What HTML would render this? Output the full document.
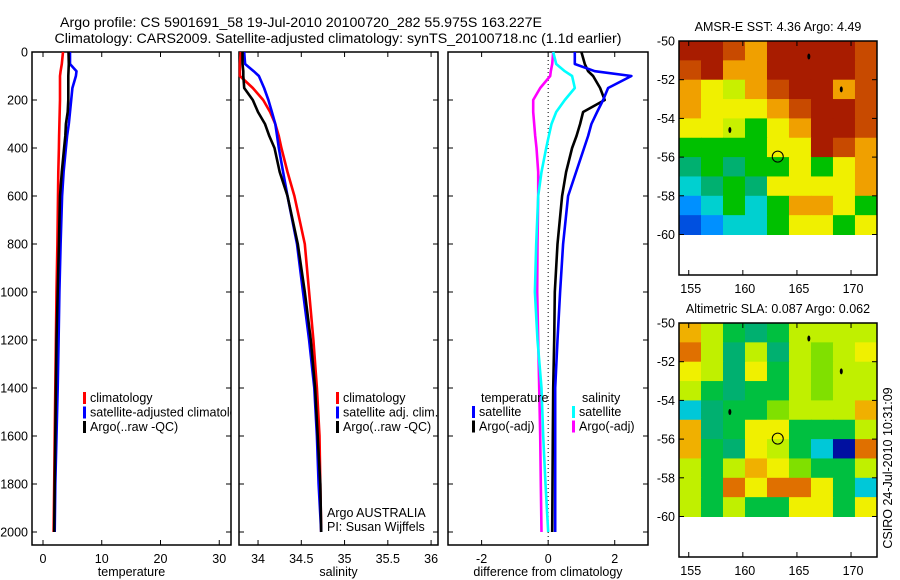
<!DOCTYPE html>
<html><head><meta charset="utf-8"><style>
html,body{margin:0;padding:0;background:#fff;}
svg{display:block;font-family:"Liberation Sans",sans-serif;}
</style></head><body>
<svg id="fig" width="900" height="580" viewBox="0 0 900 580">
<defs><clipPath id="clip1"><rect x="32" y="52" width="199" height="493"/></clipPath></defs>
<text x="301" y="27" font-size="14.2" text-anchor="middle">Argo profile: CS 5901691_58 19-Jul-2010 20100720_282 55.975S 163.227E</text>
<text x="338" y="43" font-size="14.2" text-anchor="middle">Climatology: CARS2009. Satellite-adjusted climatology: synTS_20100718.nc (1.1d earlier)</text>
<text transform="translate(892,468) rotate(-90)" font-size="12.5" text-anchor="middle">CSIRO 24-Jul-2010 10:31:09</text>
</svg>
<script>
// ---- data ----
const depthLevels = [0,50,80,100,150,200,250,300,350,400,500,600,800,1000,1200,1400,1600,1800,2000];
const tempClim   = [3.4,3.2,3.0,2.9,2.9,2.9,2.85,2.8,2.75,2.7,2.6,2.55,2.45,2.3,2.2,2.1,2.0,1.9,1.8];
const tempArgo   = [4.35,4.4,4.35,4.3,4.3,4.3,4.2,3.9,3.8,3.6,3.2,2.9,2.7,2.5,2.3,2.2,2.1,2.0,1.9];
const tempSat    = [4.6,4.6,5.7,5.6,5.0,4.8,4.6,4.4,4.1,3.9,3.5,3.25,3.0,2.8,2.65,2.5,2.3,2.1,2.0];
const salClim    = [33.8,33.79,33.79,33.79,33.94,34.06,34.14,34.2,34.24,34.27,34.34,34.42,34.54,34.59,34.64,34.68,34.71,34.72,34.73];
const salArgo    = [33.82,33.82,33.83,33.83,33.84,33.94,34.0,34.08,34.13,34.19,34.25,34.34,34.46,34.54,34.61,34.66,34.69,34.72,34.73];
const salSat     = [33.84,33.85,33.95,34.01,34.07,34.12,34.16,34.2,34.22,34.24,34.29,34.34,34.45,34.52,34.59,34.65,34.68,34.70,34.73];
const dSalArgo   = [0.15,0.12,0.08,0.06,-0.24,-0.45,-0.45,-0.42,-0.39,-0.35,-0.3,-0.3,-0.32,-0.33,-0.3,-0.27,-0.24,-0.22,-0.2];
const dSalSat    = [0.15,0.24,0.5,0.72,0.8,0.5,0.24,0.1,0.02,-0.06,-0.2,-0.3,-0.36,-0.4,-0.32,-0.2,-0.15,-0.08,0.0];
const dTempArgo  = [1.0,1.1,1.2,1.35,1.56,1.7,1.05,0.96,0.85,0.72,0.54,0.42,0.28,0.2,0.18,0.15,0.14,0.13,0.12];
const dTempSat   = [0.8,0.8,1.4,2.5,1.8,1.65,1.47,1.3,1.2,1.08,0.84,0.6,0.45,0.36,0.28,0.21,0.21,0.21,0.21];
const depthTicks = [0,200,400,600,800,1000,1200,1400,1600,1800,2000];
const tempTicks  = [0,10,20,30];
const salTicks   = [34,34.5,35,35.5,36];
const salTickLabels = ["34","34.5","35","35.5","36"];
const diffTicks  = [-2,0,2];
const lonTicks   = [155,160,165,170];
const latTicks   = [-50,-52,-54,-56,-58,-60];
const sstGrid = ["RROoRRRRO","ORooRRRRO","oYyoORRoO","oYYYoORRO","YYyGYoRRO","GGGGYYROo","gGgGGYGYo","CgGgYYYYo","BCGCGooYG","DBCCGYYGY"];
const slaGrid = ["oyGgGyyyy","OygygylyY","YygYGylyy","yGgGGylyy","CgGGlyyyo","ogGYYGGGy","oGgYyGCDO","yGyoYlGGy","yGOYOOYGC","yGyGGYYGY"];
const floatLon = 163.227, floatLat = -55.975;

const svg = document.getElementById('fig');
const NS = 'http://www.w3.org/2000/svg';
function mk(tag, attrs, parent){ const e=document.createElementNS(NS,tag); for(const k in attrs) e.setAttribute(k,attrs[k]); (parent||svg).appendChild(e); return e; }
function txt(x,y,s,size,anchor,parent){ const t=mk('text',{x:x,y:y,'font-size':size,'text-anchor':anchor||'middle'},parent); t.textContent=s; return t; }

const Y0=52, Y1=545;
const yD = d => Y0 + d*0.24;

function panel(name, x0, x1, vmin, vmax, ticks, labels, showDepth, xlabel){
  const g = mk('g',{});
  
  
  const sx = v => x0 + (v-vmin)/(vmax-vmin)*(x1-x0);
  mk('rect',{x:x0,y:Y0,width:x1-x0,height:Y1-Y0,fill:'none',stroke:'#000','stroke-width':1.5},g);
  ticks.forEach((t,i)=>{
    const x=sx(t);
    mk('line',{x1:x,y1:Y1,x2:x,y2:Y1-5,stroke:'#000'},g);
    mk('line',{x1:x,y1:Y0,x2:x,y2:Y0+5,stroke:'#000'},g);
    const l=txt(x,Y1+18,labels?labels[i]:String(t),12.5,'middle',g);
    
    
  });
  depthTicks.forEach(d=>{
    const y=yD(d);
    mk('line',{x1:x0,y1:y,x2:x0+5,y2:y,stroke:'#000'},g);
    mk('line',{x1:x1,y1:y,x2:x1-5,y2:y,stroke:'#000'},g);
    if(showDepth){
      const l=txt(x0-4,y+4.5,String(d),12.5,'end',g);
      
      
    }
  });
  const xl=txt((x0+x1)/2,Y1+31,xlabel,12.5,'middle',g);
  
  
  return {g:g,sx:sx};
}
function line(p, vals, color, name){
  const pts = vals.map((v,i)=>p.sx(v).toFixed(1)+','+yD(depthLevels[i]).toFixed(1)).join(' ');
  const pl = mk('polyline',{points:pts,fill:'none',stroke:color,'stroke-width':2.6,'stroke-linejoin':'round'},p.g);
  
  
}
function legend(p, x, y, items, clip){
  items.forEach((it,i)=>{
    const yy=y+i*14.5;
    if(it[1]) mk('rect',{x:x,y:yy-10,width:3,height:12,fill:it[1]},p.g);
    const t=txt(x+(it[1]?7:0),yy,it[0],12.5,'start',p.g);
    if(clip) t.setAttribute('clip-path','url(#'+clip+')');
    
    
  });
}

const p1 = panel('temperature-panel',32,231,-1.87,32,tempTicks,null,true,'temperature');
line(p1,tempClim,'#f00','temp-climatology-line');
line(p1,tempSat,'#00f','temp-satellite-line');
line(p1,tempArgo,'#000','temp-argo-line');
legend(p1,83,402,[['climatology','#f00'],['satellite-adjusted climatology','#00f'],['Argo(..raw -QC)','#000']],'clip1');

const p2 = panel('salinity-panel',239,438,33.78,36.08,salTicks,salTickLabels,false,'salinity');
line(p2,salClim,'#f00','sal-climatology-line');
line(p2,salSat,'#00f','sal-satellite-line');
line(p2,salArgo,'#000','sal-argo-line');
legend(p2,336,402,[['climatology','#f00'],['satellite adj. clim.','#00f'],['Argo(..raw -QC)','#000']]);
const a1=txt(327,517,'Argo AUSTRALIA',12.5,'start',p2.g);


const a2=txt(327,531,'PI: Susan Wijffels',12.5,'start',p2.g);



const p3 = panel('difference-panel',448,648,-3.01,3.0,diffTicks,['-2','0','2'],false,'difference from climatology');
mk('line',{x1:p3.sx(0),y1:Y0,x2:p3.sx(0),y2:Y1,stroke:'#000','stroke-dasharray':'1,3'},p3.g);
line(p3,dSalArgo,'#f0f','diff-sal-argo-line');
line(p3,dSalSat,'#0ff','diff-sal-satellite-line');
line(p3,dTempArgo,'#000','diff-temp-argo-line');
line(p3,dTempSat,'#00f','diff-temp-satellite-line');
legend(p3,481,402,[['temperature',null]]);
legend(p3,472,416,[['satellite','#00f'],['Argo(-adj)','#000']]);
legend(p3,582,402,[['salinity',null]]);
legend(p3,572,416,[['satellite','#0ff'],['Argo(-adj)','#f0f']]);

const sstColors = {R:'#a81c00',O:'#c84a00',o:'#f0a000',Y:'#f0f000',y:'#c8f000',G:'#00c000',g:'#00b070',C:'#00d0d0',B:'#0090ff',D:'#0050e0'};
const slaColors = {R:'#b03000',O:'#e07000',o:'#f0b000',Y:'#f0f000',y:'#c0f000',l:'#80e000',G:'#00c040',g:'#00b070',C:'#00c8d8',B:'#0060ff',D:'#0010a0'};
function map(name, top, grid, colors, title){
  const g = mk('g',{});
  
  
  const X0=679, X1=877, lon0=154.1, lon1=172.4;
  const sx = l => X0+(l-lon0)/(lon1-lon0)*(X1-X0);
  const sy = la => top + (-50-la)*19.35;
  const bottom = top + 234;
  grid.forEach((row,r)=>{
    for(let c=0;c<row.length;c++){
      const xa=sx(154.1+c*2.033), xb=sx(154.1+(c+1)*2.033);
      const cell=mk('rect',{x:xa,y:sy(-50-r),width:xb-xa+0.5,height:sy(-51-r)-sy(-50-r)+0.5,fill:colors[row[c]]},g);
      
      
    }
  });
  mk('rect',{x:X0,y:top,width:X1-X0,height:bottom-top,fill:'none',stroke:'#000','stroke-width':1.5},g);
  lonTicks.forEach(l=>{
    mk('line',{x1:sx(l),y1:bottom,x2:sx(l),y2:bottom-5,stroke:'#000'},g);
    mk('line',{x1:sx(l),y1:top,x2:sx(l),y2:top+5,stroke:'#000'},g);
    const t=txt(sx(l)+2,bottom+18,String(l),12.5,'middle',g);
    
    
  });
  latTicks.forEach(la=>{
    mk('line',{x1:X0,y1:sy(la),x2:X0+5,y2:sy(la),stroke:'#000'},g);
    mk('line',{x1:X1,y1:sy(la),x2:X1-5,y2:sy(la),stroke:'#000'},g);
    const t=txt(X0-4,sy(la)+4.5,String(la),12.5,'end',g);
    
    
  });
  const c=mk('circle',{cx:sx(floatLon),cy:sy(floatLat),r:5.5,fill:'none',stroke:'#000'},g);
  
  
  [[166.1,-50.8],[169.1,-52.5],[158.8,-54.6]].forEach(p=>{
    const isl=mk('ellipse',{cx:sx(p[0]),cy:sy(p[1]),rx:1.5,ry:3,fill:'#000'},g);
    
    
  });
  const t=txt(778,top-10,title,12.5,'middle',g);
  
  
}
map('sst-map',41,sstGrid,sstColors,'AMSR-E SST: 4.36 Argo: 4.49');
map('sla-map',323,slaGrid,slaColors,'Altimetric SLA: 0.087 Argo: 0.062');
</script>
</body></html>
